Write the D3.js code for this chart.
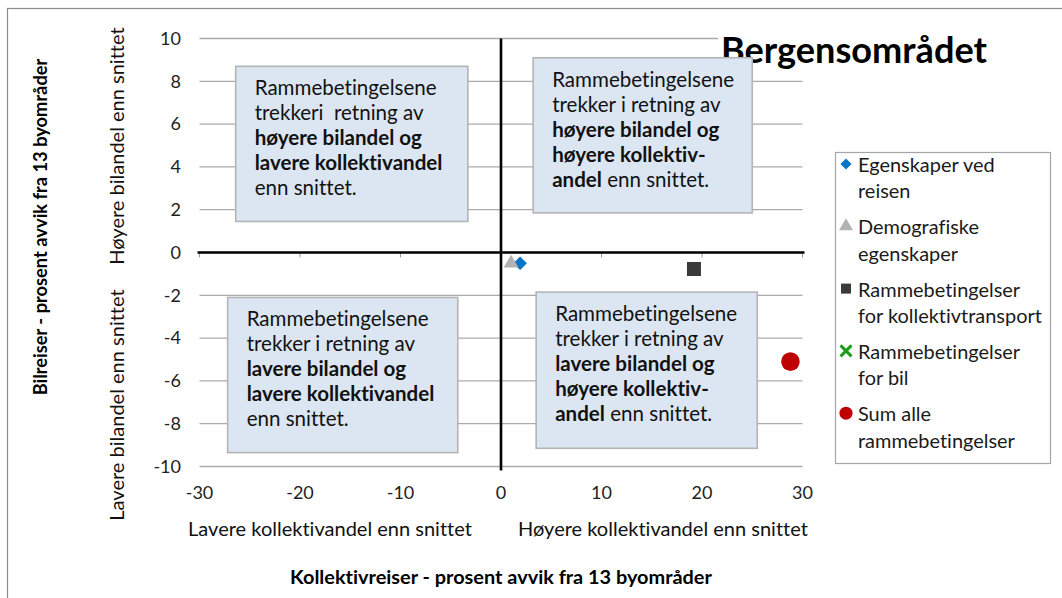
<!DOCTYPE html>
<html>
<head>
<meta charset="utf-8">
<script src="https://cdn.jsdelivr.net/npm/d3@7"></script>
<style>
  body { margin: 0; background: #fff; }
  svg { display: block; font-family: Lato, "Open Sans", sans-serif; font-variant-ligatures: none; }
</style>
</head>
<body>
<div id="vis"></div>
<script>
// series (one point each)
var seriesNames = ["Egenskaper ved reisen", "Demografiske egenskaper", "Rammebetingelser for kollektivtransport", "Rammebetingelser for bil", "Sum alle rammebetingelser"];
var legendLines = [["Egenskaper ved", "reisen"], ["Demografiske", "egenskaper"], ["Rammebetingelser", "for kollektivtransport"], ["Rammebetingelser", "for bil"], ["Sum alle", "rammebetingelser"]];
var xValues = [1.9, 1.0, 19.2, 28.8, 28.8];
var yValues = [-0.5, -0.5, -0.77, -5.1, -5.1];

var xTicks = [-30, -20, -10, 0, 10, 20, 30];
var yTicks = [-10, -8, -6, -4, -2, 0, 2, 4, 6, 8, 10];

var chartTitle = "Bergensområdet";
var xTitle = "Kollektivreiser - prosent avvik fra 13 byområder";
var yTitle = "Bilreiser - prosent avvik fra 13 byområder";
var xSubLabels = ["Lavere kollektivandel enn snittet", "Høyere kollektivandel enn snittet"];
var ySubLabels = ["Lavere bilandel enn snittet", "Høyere bilandel enn snittet"];

// quadrant notes: each line is a list of [text, bold]
var quadrantText = [
	[[["Rammebetingelsene", 0]], [["trekkeri  retning av", 0]], [["høyere bilandel og", 1]], [["lavere kollektivandel", 1]], [["enn snittet.", 0]]],
	[[["Rammebetingelsene", 0]], [["trekker i retning av", 0]], [["høyere bilandel og", 1]], [["høyere kollektiv-", 1]], [["andel", 1], [" enn snittet.", 0]]],
	[[["Rammebetingelsene", 0]], [["trekker i retning av", 0]], [["lavere bilandel og", 1]], [["lavere kollektivandel", 1]], [["enn snittet.", 0]]],
	[[["Rammebetingelsene", 0]], [["trekker i retning av", 0]], [["lavere bilandel og", 1]], [["høyere kollektiv-", 1]], [["andel", 1], [" enn snittet.", 0]]]
];

var width = 1062, height = 598;

var svg = d3.select('#vis').append('svg')
	.attr('width', width)
	.attr('height', height);

// scale a text's font size so it spans the wanted width
function fit(sel, target) {
	var fs = parseFloat(sel.attr('font-size'));
	var w = sel.node().getComputedTextLength();
	sel.attr('font-size', (fs * target / w).toFixed(2));
	return fs * target / w;
}

// outer chart frame
svg.append('rect')
	.attr('x', 7.5).attr('y', 8.5)
	.attr('width', width).attr('height', height)
	.attr('fill', '#fff')
	.attr('stroke', '#8c8c8c')
	.attr('stroke-width', 1.2);

var x = d3.scaleLinear().domain([-30, 30]).range([199.5, 802.5]);
var y = d3.scaleLinear().domain([-10, 10]).range([466.5, 38.5]);

// gridlines
svg.append('g').selectAll('line').data(yTicks).enter()
	.append('line')
	.attr('x1', x(-30)).attr('x2', x(30))
	.attr('y1', function(d) { return y(d); })
	.attr('y2', function(d) { return y(d); })
	.attr('stroke', '#ababab')
	.attr('stroke-width', 1.3);

// title with white backing over the top gridline
var title = svg.append('text')
	.attr('x', 721).attr('y', 63)
	.attr('font-size', 30)
	.attr('font-weight', 'bold')
	.attr('fill', '#000')
	.text(chartTitle);
fit(title, 266);
var tb = title.node().getBBox();
svg.insert('rect', 'text')
	.attr('x', tb.x - 3).attr('y', tb.y)
	.attr('width', tb.width + 6).attr('height', tb.height)
	.attr('fill', '#fff');

// tick marks on the zero axes
svg.append('g').selectAll('line').data(xTicks.filter(function(d) { return d !== 0; })).enter()
	.append('line')
	.attr('x1', function(d) { return x(d); }).attr('x2', function(d) { return x(d); })
	.attr('y1', y(0)).attr('y2', y(0) + 5)
	.attr('stroke', '#999');

// zero axes
svg.append('line')
	.attr('x1', x(-30) - 2).attr('x2', x(30) + 2)
	.attr('y1', y(0)).attr('y2', y(0))
	.attr('stroke', '#000').attr('stroke-width', 2.6);
svg.append('line')
	.attr('x1', x(0)).attr('x2', x(0))
	.attr('y1', y(10)).attr('y2', y(-10) + 4)
	.attr('stroke', '#000').attr('stroke-width', 2.6);

// tick labels
svg.append('g').selectAll('text').data(yTicks).enter()
	.append('text')
	.attr('x', 181)
	.attr('y', function(d) { return y(d); })
	.attr('dy', '0.35em')
	.attr('text-anchor', 'end')
	.attr('font-size', 18)
	.attr('fill', '#222')
	.text(function(d) { return d; });

svg.append('g').selectAll('text').data(xTicks).enter()
	.append('text')
	.attr('x', function(d) { return x(d); })
	.attr('y', 499)
	.attr('text-anchor', 'middle')
	.attr('font-size', 18)
	.attr('fill', '#222')
	.text(function(d) { return d; });

// quadrant notes, placed in data units
var boxLayout = [
	{ x0: -26.4, x1: -3.3, y0: 8.7, y1: 1.45 },
	{ x0: 3.2, x1: 25.0, y0: 9.1, y1: 1.85 },
	{ x0: -27.2, x1: -4.3, y0: -2.1, y1: -9.35 },
	{ x0: 3.5, x1: 25.5, y0: -1.85, y1: -9.15 }
];

var probe = svg.append('text').attr('font-size', 20).text('Rammebetingelsene');
var boxFont = fit(probe, 182);
probe.remove();

boxLayout.forEach(function(b, i) {
	var g = svg.append('g');
	g.append('rect')
		.attr('x', x(b.x0)).attr('y', y(b.y0))
		.attr('width', x(b.x1) - x(b.x0))
		.attr('height', y(b.y1) - y(b.y0))
		.attr('fill', '#dce6f2')
		.attr('stroke', '#b4b4b4')
		.attr('stroke-width', 1.6);
	var t = g.append('text')
		.attr('font-size', boxFont)
		.attr('fill', '#111');
	quadrantText[i].forEach(function(line, j) {
		line.forEach(function(part, k) {
			var ts = t.append('tspan')
				.attr('font-weight', part[1] ? 'bold' : 'normal')
				.style('white-space', 'pre')
				.text(part[0]);
			if (k === 0) {
				ts.attr('x', x(b.x0) + 19)
					.attr('y', y(b.y0) + 29 + j * 25);
			}
		});
	});
});

// points
var markers = [
	{ type: d3.symbolSquare, size: 92, rot: 45, fill: '#0a74c8', stroke: 'none' },
	{ type: d3.symbolTriangle, size: 95, rot: 0, fill: '#b2b2b2', stroke: 'none' },
	{ type: d3.symbolSquare, size: 196, rot: 0, fill: '#3a3a3a', stroke: 'none' },
	{ type: d3.symbolTimes, size: 110, rot: 0, fill: 'none', stroke: '#1c9e1c' },
	{ type: d3.symbolCircle, size: 270, rot: 0, fill: '#be0000', stroke: 'none' }
];
var legendSizes = [62, 85, 100, 80, 135];

svg.append('g').selectAll('path').data(seriesNames).enter()
	.append('path')
	.attr('d', function(d, i) { return d3.symbol().type(markers[i].type).size(markers[i].size)(); })
	.attr('transform', function(d, i) {
		return 'translate(' + x(xValues[i]) + ',' + y(yValues[i]) + ') rotate(' + markers[i].rot + ')';
	})
	.attr('fill', function(d, i) { return markers[i].fill; })
	.attr('stroke', function(d, i) { return markers[i].stroke; })
	.attr('stroke-width', 3);

// legend
svg.append('rect')
	.attr('x', 835.5).attr('y', 152.5)
	.attr('width', 215).attr('height', 311)
	.attr('fill', '#fff')
	.attr('stroke', '#a6a6a6')
	.attr('stroke-width', 1.2);

var legend = svg.append('g').selectAll('g').data(legendLines).enter()
	.append('g')
	.attr('transform', function(d, i) { return 'translate(0,' + (165 + i * 62.3) + ')'; });

legend.append('path')
	.attr('d', function(d, i) { return d3.symbol().type(markers[i].type).size(legendSizes[i])(); })
	.attr('transform', function(d, i) { return 'translate(846,-1) rotate(' + markers[i].rot + ')'; })
	.attr('fill', function(d, i) { return markers[i].fill; })
	.attr('stroke', function(d, i) { return markers[i].stroke; })
	.attr('stroke-width', 3);

var legendText = legend.append('text')
	.attr('font-size', 17)
	.attr('fill', '#1a1a1a');
legendText.selectAll('tspan').data(function(d) { return d; }).enter()
	.append('tspan')
	.attr('x', 858)
	.attr('y', function(d, j) { return j * 26.5; })
	.attr('dy', '0.35em')
	.text(function(d) { return d; });

// size legend text so "for kollektivtransport" spans like the original
var lp = svg.append('text').attr('font-size', 17).text(legendLines[2][1]);
var legendFont = fit(lp, 184);
lp.remove();
legendText.attr('font-size', legendFont);

// axis labels
var xs0 = svg.append('text')
	.attr('x', 330).attr('y', 536)
	.attr('text-anchor', 'middle')
	.attr('font-size', 18)
	.attr('fill', '#111')
	.text(xSubLabels[0]);
var subFont = fit(xs0, 284);
svg.append('text')
	.attr('x', 663).attr('y', 536)
	.attr('text-anchor', 'middle')
	.attr('font-size', subFont)
	.attr('fill', '#111')
	.text(xSubLabels[1]);

svg.append('text')
	.attr('transform', 'translate(124,405) rotate(-90)')
	.attr('text-anchor', 'middle')
	.attr('font-size', subFont)
	.attr('fill', '#111')
	.text(ySubLabels[0]);
svg.append('text')
	.attr('transform', 'translate(124,146) rotate(-90)')
	.attr('text-anchor', 'middle')
	.attr('font-size', subFont)
	.attr('fill', '#111')
	.text(ySubLabels[1]);

var xt = svg.append('text')
	.attr('x', 501).attr('y', 584)
	.attr('text-anchor', 'middle')
	.attr('font-size', 17)
	.attr('font-weight', 'bold')
	.attr('fill', '#000')
	.text(xTitle);
fit(xt, 422);

var yt = svg.append('text')
	.attr('transform', 'translate(47,227) rotate(-90)')
	.attr('text-anchor', 'middle')
	.attr('font-size', 17)
	.attr('font-weight', 'bold')
	.attr('fill', '#000')
	.text(yTitle);
fit(yt, 337);
</script>
</body>
</html>
